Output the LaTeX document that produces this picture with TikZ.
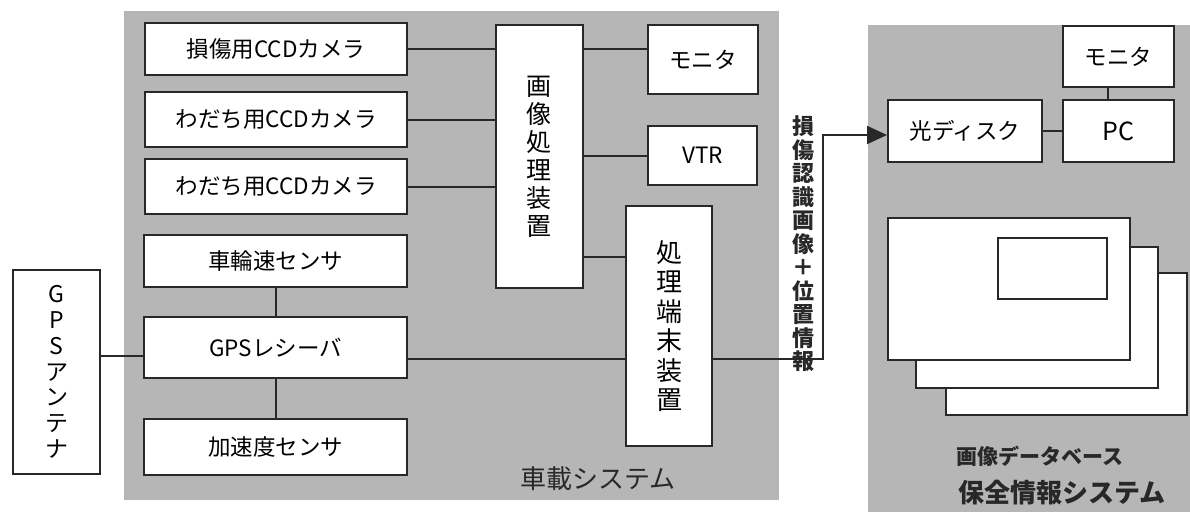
\documentclass[tikz,border=0pt]{standalone}
\usepackage{fontspec}
\setmainfont{Noto Sans CJK JP}
\usetikzlibrary{arrows.meta}
\definecolor{panelgray}{RGB}{182,182,182}
\definecolor{ink}{RGB}{40,40,40}
\begin{document}
\begin{tikzpicture}[x=1pt,y=-1pt,
  box/.style={draw=ink, line width=2pt, fill=white, inner sep=0pt, align=center,
    font=\fontsize{22.5}{25}\selectfont},
  vbox/.style={box, font=\fontsize{25}{28}\selectfont},
  wire/.style={draw=ink, line width=2pt},
  panel/.style={fill=panelgray, draw=none},
  lbl/.style={inner sep=0pt, text=ink}
]
\useasboundingbox (0,0) rectangle (1190,512);
% panels
\path[panel] (124,11) rectangle (779,500);
\path[panel] (868,25) rectangle (1190,512);

% left column
\node[box, minimum width=262pt, minimum height=52pt] (cam1) at (276,49) {損傷用CCDカメラ};
\node[box, minimum width=262pt, minimum height=55pt] (cam2) at (276,119.5) {わだち用CCDカメラ};
\node[box, minimum width=262pt, minimum height=55pt] (cam3) at (276,186.5) {わだち用CCDカメラ};
\node[box, minimum width=263pt, minimum height=52pt] (wheel) at (275.5,261) {車輪速センサ};
\node[box, minimum width=263pt, minimum height=61pt] (gpsr) at (275.5,347.5) {GPSレシーバ};
\node[box, minimum width=263pt, minimum height=56pt] (accel) at (275.5,447) {加速度センサ};
\node[box, minimum width=87pt, minimum height=204pt, font=\fontsize{23}{25.8}\selectfont] (ant) at (56.5,372) {G\\P\\S\\ア\\ン\\テ\\ナ};

% processing
\node[vbox, minimum width=87pt, minimum height=263pt] (imgproc) at (539,156.5) {画\\像\\処\\理\\装\\置};
\node[box, minimum width=110pt, minimum height=69pt] (mon1) at (703,59.5) {モニタ};
\node[box, minimum width=109pt, minimum height=59pt] (vtr) at (702.5,155.5) {VTR};
\node[vbox, minimum width=86pt, minimum height=240pt, font=\fontsize{26}{29.5}\selectfont] (term) at (669,326) {処\\理\\端\\末\\装\\置};

% right system
\node[box, minimum width=154pt, minimum height=62pt] (disk) at (965,131) {光ディスク};
\node[box, minimum width=111pt, minimum height=62pt, font=\fontsize{25}{27}\selectfont] (pc) at (1118.5,131) {PC};
\node[box, minimum width=111pt, minimum height=61pt] (mon2) at (1118.5,56.5) {モニタ};

% stacked sheets
\draw[box] (946,273) rectangle (1187,415);
\draw[box] (916,247) rectangle (1158,388);
\draw[box] (888,218) rectangle (1130,360);
\draw[box] (998,238) rectangle (1107,299);

% wires
\draw[wire] (cam1.east) -- (cam1.east -| imgproc.west);
\draw[wire] (cam2.east) -- (cam2.east -| imgproc.west);
\draw[wire] (cam3.east) -- (cam3.east -| imgproc.west);
\draw[wire] (cam1.east -| imgproc.east) -- (cam1.east -| mon1.west);
\draw[wire] (vtr.west -| imgproc.east) -- (vtr.west);
\draw[wire] (imgproc.east |- 0,257) -- (term.west |- 0,257);
\draw[wire] (wheel.south) -- (gpsr.north);
\draw[wire] (gpsr.south) -- (accel.north);
\draw[wire] (ant.east |- 0,356) -- (gpsr.west |- 0,356);
\draw[wire] (gpsr.east |- 0,359) -- (term.west |- 0,359);
\coordinate (b1) at (823,359);
\coordinate (b2) at (823,135);
\draw[wire, -{Triangle[length=20pt,width=18pt]}] (term.east |- b1) -- (b1) -- (b2) -- (disk.west |- b2);
\draw[wire] (disk.east) -- (pc.west);
\draw[wire] (mon2.south -| 1108,0) -- (pc.north -| 1108,0);

% labels
\node[lbl, align=center, font=\fontsize{22}{23.5}\selectfont\bfseries] (flow) at (803,244) {損\\傷\\認\\識\\画\\像\\＋\\位\\置\\情\\報};
\node[lbl, font=\fontsize{26}{28}\selectfont] (car) at (598,479) {車載システム};
\node[lbl, font=\fontsize{21}{24}\selectfont\bfseries] (db) at (1040,456) {画像データベース};
\node[lbl, font=\fontsize{26}{28}\selectfont\bfseries] (sys) at (1062,493) {保全情報システム};
\end{tikzpicture}
\end{document}
